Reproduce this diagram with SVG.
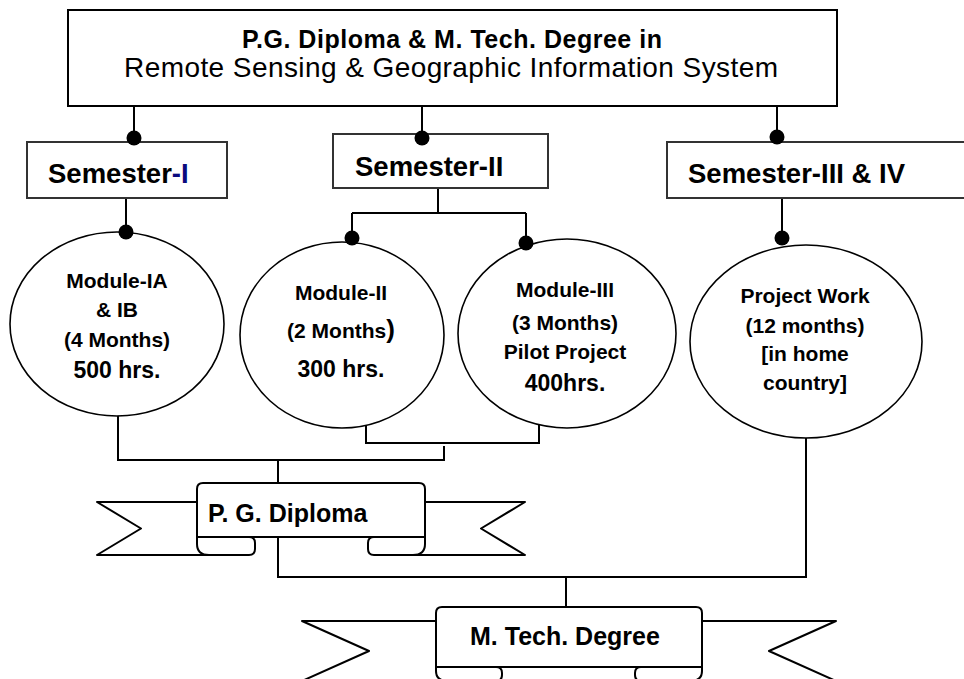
<svg xmlns="http://www.w3.org/2000/svg" width="964" height="679" viewBox="0 0 964 679">
<defs>
<style>
.box{fill:#fff;stroke:#000;stroke-width:2}
.sem{fill:#fff;stroke:#333;stroke-width:2}
.ell{fill:#fff;stroke:#000;stroke-width:1.6}
.ln{fill:none;stroke:#000;stroke-width:2}
.dot{fill:#000}
.rib{fill:#fff;stroke:#000;stroke-width:2;stroke-linejoin:round}
.t{font-family:"Liberation Sans",Arial,sans-serif;fill:#000}
.b{font-weight:bold}
.m{font-family:"Liberation Sans",Arial,sans-serif;font-weight:bold;font-size:21px;text-anchor:middle;fill:#000}
.h{font-size:23px}
.s{font-family:"Liberation Sans",Arial,sans-serif;font-weight:bold;font-size:27.5px;fill:#000}
</style>
</defs>
<rect width="964" height="679" fill="#fff"/>

<g id="connectors">
<path class="ln" d="M134,105V138M422,105V138M777,105V137"/>
<path class="ln" d="M126,198V232"/>
<path class="ln" d="M438,188V213M352,213H526M352,213V238M526,213V243"/>
<path class="ln" d="M782,194V238"/>
<path class="ln" d="M118,407V460H444V446"/>
<path class="ln" d="M366,421V443H539V422"/>
<path class="ln" d="M278,460V483"/>
<path class="ln" d="M278,537V577H806V431"/>
<path class="ln" d="M566,577V607"/>
</g>

<g id="title">
<rect class="box" x="68" y="10" width="769" height="96"/>
<text class="t b" x="452" y="48" font-size="25" text-anchor="middle" textLength="420">P.G. Diploma &amp; M. Tech. Degree in</text>
<text class="t" x="451" y="77" font-size="28" text-anchor="middle" textLength="654">Remote Sensing &amp; Geographic Information System</text>
</g>

<g id="sem1">
<rect class="sem" x="27" y="142" width="200" height="56"/>
<text class="s" x="48" y="183">Semester<tspan fill="#0b0b7e">-I</tspan></text>
</g>
<g id="sem2">
<rect class="sem" x="333" y="134" width="215" height="54"/>
<text class="s" x="355" y="176">Semester-II</text>
</g>
<g id="sem3">
<rect class="sem" x="667" y="142" width="302" height="56"/>
<text class="s" x="688" y="183">Semester-III &amp; IV</text>
</g>

<g id="module1">
<ellipse class="ell" cx="117" cy="324" rx="107" ry="92"/>
<text class="m" x="117" y="288">Module-IA</text>
<text class="m" x="117" y="317">&amp; IB</text>
<text class="m" x="117" y="347">(4 Months)</text>
<text class="m h" x="117" y="378">500 hrs.</text>
</g>
<g id="module2">
<ellipse class="ell" cx="342" cy="335" rx="102" ry="93"/>
<text class="m" x="341" y="300">Module-II</text>
<text class="m" x="341" y="338">(2 Months<tspan font-size="26">)</tspan></text>
<text class="m h" x="341" y="377">300 hrs.</text>
</g>
<g id="module3">
<ellipse class="ell" cx="567" cy="333.5" rx="109" ry="94.5"/>
<text class="m" x="565" y="297">Module-III</text>
<text class="m" x="565" y="330">(3 Months)</text>
<text class="m" x="565" y="359">Pilot Project</text>
<text class="m h" x="565" y="391">400hrs.</text>
</g>
<g id="project">
<ellipse class="ell" cx="806" cy="341.5" rx="116" ry="96.5"/>
<text class="m" x="805" y="303">Project Work</text>
<text class="m" x="805" y="333">(12 months)</text>
<text class="m" x="805" y="361">[in home</text>
<text class="m" x="805" y="390">country]</text>
</g>

<g id="pgdiploma">
<path class="rib" d="M197,502L97,502L141,528.5L97,555L215,555"/>
<path class="rib" d="M425,502L525,502L481,528.5L525,555L408,555"/>
<path class="rib" d="M197,537L197,544Q197,555 209,555L249,555Q255,555 255,549L255,543Q255,537 249,537"/>
<path class="rib" d="M425,537L425,544Q425,555 413,555L374,555Q368,555 368,549L368,543Q368,537 374,537"/>
<path class="rib" d="M197,537L197,489Q197,483 203,483L419,483Q425,483 425,489L425,537Z"/>
<text class="t b" x="208" y="522" font-size="25">P. G. Diploma</text>
</g>

<g id="mtech">
<path class="rib" d="M436,621L302,621L369,651L302,681L455,681"/>
<path class="rib" d="M702,621L836,621L769,651L836,681L683,681"/>
<path class="rib" d="M436,667L436,671Q436,681 448,681L496,681Q502,681 502,675L502,673Q502,667 496,667"/>
<path class="rib" d="M702,667L702,671Q702,681 690,681L641,681Q635,681 635,675L635,673Q635,667 641,667"/>
<path class="rib" d="M436,667L436,613Q436,607 442,607L696,607Q702,607 702,613L702,667Z"/>
<text class="t b" x="470" y="645" font-size="25">M. Tech. Degree</text>
</g>

<g id="dots">
<circle class="dot" cx="134" cy="138" r="7.5"/>
<circle class="dot" cx="422" cy="138" r="7.5"/>
<circle class="dot" cx="777" cy="137" r="7.5"/>
<circle class="dot" cx="126" cy="232" r="7.5"/>
<circle class="dot" cx="352" cy="238" r="7.5"/>
<circle class="dot" cx="526" cy="243" r="7.5"/>
<circle class="dot" cx="782" cy="238" r="7.5"/>
</g>
</svg>
